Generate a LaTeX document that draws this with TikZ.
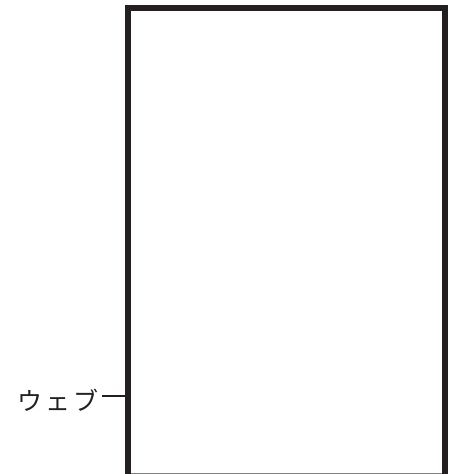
\documentclass[tikz,border=0pt]{standalone}
\usepackage{fontspec}
\newfontfamily\jpfont{Noto Sans CJK JP}
\definecolor{ink}{HTML}{231F20}
\begin{document}
\begin{tikzpicture}[x=1pt,y=-1pt,
  frame/.style={draw=ink,line width=6pt,line join=miter},
  leader/.style={draw=ink,line width=2pt},
  label/.style={font=\jpfont\fontsize{25pt}{27pt}\selectfont,text=ink,inner sep=0pt}]
\useasboundingbox (0,0) rectangle (453,474);
\coordinate (bl) at (128,478);
\coordinate (tl) at (128,8);
\coordinate (tr) at (445,8);
\coordinate (br) at (445,478);
\path[frame] (bl) -- (tl) -- (tr) -- (br);
\draw[gray,line width=1pt] (131,473.5) -- (442,473.5);
\node[label,anchor=base east] (web) at (99,410) {ウ\hspace{3pt}ェ\hspace{3pt}ブ};
\coordinate (webpt) at (128,396);
\path[leader] ([xshift=3pt]web.east |- webpt) -- (webpt);
\end{tikzpicture}
\end{document}
